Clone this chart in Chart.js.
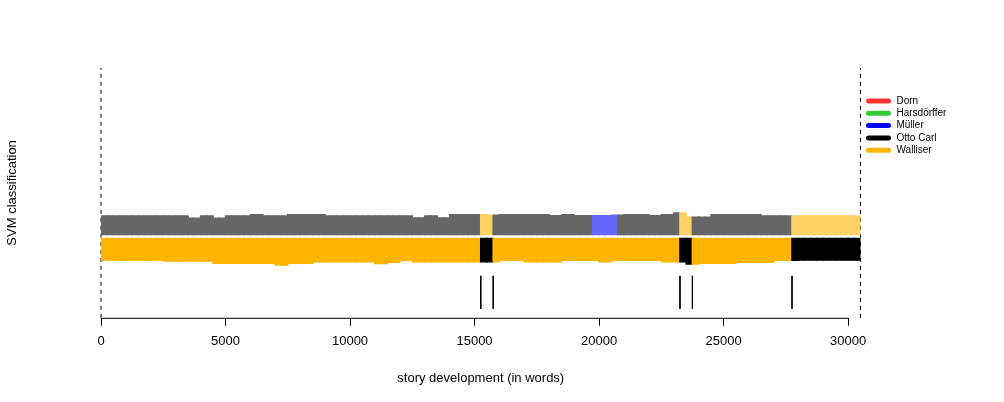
<!DOCTYPE html>
<html>
<head>
<meta charset="utf-8">
<script src="https://cdn.jsdelivr.net/npm/chart.js@4.4.0/dist/chart.umd.min.js"></script>
<style>
  html, body { margin: 0; padding: 0; background: #fff; }
  #wrap { width: 1004px; height: 402px; }
</style>
</head>
<body>
<div id="wrap"><canvas id="svmChart" width="1004" height="402"></canvas></div>
<script>
// candidates and their colours
const authors = ["Dorn", "Harsdörffer", "Müller", "Otto Carl", "Walliser"];
const authorColors = ["#ff3333", "#33cc33", "#0000ff", "#000000", "#ffb400"];

// text length and step between slices (words)
const textLength = 30500;
const sliceStep = 500;

// strength of the 1st choice for each 500-word slice (drawn downwards)
const firstScore = [
  0.92, 0.92, 0.92, 0.92, 0.92, 0.96, 0.96, 0.96, 0.96, 1.05,
  1.05, 1.05, 1.05, 1.05, 1.12, 1.05, 1.05, 0.99, 0.99, 0.99,
  0.99, 0.99, 1.06, 1.01, 0.93, 0.99, 0.99, 0.99, 0.99, 0.99,
  0.99, 0.99, 0.93, 0.93, 0.99, 0.99, 0.99, 0.93, 0.93, 0.93,
  0.99, 0.93, 0.93, 0.93, 0.93, 0.99, 0.99, 1.08, 1.05, 1.05,
  1.05, 1.01, 1.01, 1.01, 0.93, 0.93, 0.92, 0.92, 0.92, 0.92,
  0.92
];
// strength of the 2nd choice for each slice (drawn upwards)
const secondScore = [
  0.81, 0.81, 0.81, 0.81, 0.81, 0.81, 0.81, 0.72, 0.81, 0.72,
  0.81, 0.81, 0.86, 0.81, 0.81, 0.86, 0.86, 0.86, 0.81, 0.81,
  0.81, 0.81, 0.81, 0.81, 0.81, 0.73, 0.81, 0.73, 0.86, 0.86,
  0.86, 0.84, 0.86, 0.86, 0.86, 0.86, 0.82, 0.86, 0.82, 0.82,
  0.82, 0.84, 0.86, 0.86, 0.82, 0.86, 0.93, 0.76, 0.76, 0.86,
  0.86, 0.86, 0.86, 0.81, 0.81, 0.81, 0.81, 0.81, 0.81, 0.81,
  0.81
];

// classification runs: word where each run starts + winning author
const firstBreaks = [0, 15250, 15750, 23250, 23750, 27750];
const firstClass = ["Walliser", "Otto Carl", "Walliser", "Otto Carl", "Walliser", "Otto Carl"];
const secondBreaks = [0, 15250, 15750, 19750, 20750, 23250, 23750, 27750];
const secondClass = ["Otto Carl", "Walliser", "Otto Carl", "Müller", "Otto Carl", "Walliser", "Otto Carl", "Walliser"];

// marked positions in the story
const milestones = [15250, 15750, 23250, 23750, 27750];
const xTicks = [0, 5000, 10000, 15000, 20000, 25000, 30000];

// vertical layout of the strip (plot units)
const yMin = -3.3, yMax = 6.7, bandGap = 0.1;
const markTop = -1.62, markBottom = -2.94;

const fontFamily = "'Liberation Sans', Arial, sans-serif";

function classAt(word, breaks, classes) {
  let c = classes[0];
  for (let i = 0; i < breaks.length; i++) if (word >= breaks[i]) c = classes[i];
  return c;
}
function colorOf(name, alpha) {
  const hex = authorColors[authors.indexOf(name)];
  const r = parseInt(hex.slice(1, 3), 16), g = parseInt(hex.slice(3, 5), 16), b = parseInt(hex.slice(5, 7), 16);
  // second choice is a lighter shade, mixed with white
  return `rgb(${Math.round(r * alpha + 255 * (1 - alpha))},${Math.round(g * alpha + 255 * (1 - alpha))},${Math.round(b * alpha + 255 * (1 - alpha))})`;
}

// half-slice cells, so the class runs can start mid-slice
const cell = sliceStep / 2;
const firstData = [], firstColors = [], secondData = [], secondColors = [];
for (let w = 0; w < textLength; w += cell) {
  const k = Math.floor(w / sliceStep);
  const mid = w + cell / 2;
  firstData.push({ x: mid, y: [-bandGap, -bandGap - firstScore[k]] });
  firstColors.push(colorOf(classAt(mid, firstBreaks, firstClass), 1));
  secondData.push({ x: mid, y: [0, secondScore[k]] });
  secondColors.push(colorOf(classAt(mid, secondBreaks, secondClass), 0.6));
}

const lineDefaults = { type: "line", borderColor: "#000", borderWidth: 1, pointRadius: 0, clip: false, fill: false };
const datasets = [
  { type: "bar", label: "1st choice", data: firstData, backgroundColor: firstColors, borderWidth: 0,
    grouped: false, barPercentage: 1.25, categoryPercentage: 1 },
  { type: "bar", label: "2nd choice", data: secondData, backgroundColor: secondColors, borderWidth: 0,
    grouped: false, barPercentage: 1.25, categoryPercentage: 1 },
  { ...lineDefaults, label: "start", data: [{ x: 0, y: yMin }, { x: 0, y: yMax }], borderDash: [4, 4] },
  { ...lineDefaults, label: "end", data: [{ x: textLength, y: yMin }, { x: textLength, y: yMax }], borderDash: [4, 4] },
];
milestones.forEach((m) => {
  datasets.push({ ...lineDefaults, label: "mark", data: [{ x: m, y: markTop }, { x: m, y: markBottom }] });
});

const extras = {
  id: "extras",
  afterDraw(chart) {
    const ctx = chart.ctx, xs = chart.scales.x, area = chart.chartArea;
    ctx.save();
    // axis line only between first and last tick
    ctx.strokeStyle = "#000";
    ctx.lineWidth = 1;
    ctx.beginPath();
    ctx.moveTo(xs.getPixelForValue(xTicks[0]), area.bottom + 0.5);
    ctx.lineTo(xs.getPixelForValue(xTicks[xTicks.length - 1]), area.bottom + 0.5);
    ctx.stroke();

    // y title
    ctx.fillStyle = "#000";
    ctx.font = "13px " + fontFamily;
    ctx.textAlign = "center";
    ctx.textBaseline = "middle";
    ctx.translate(12, (area.top + area.bottom) / 2);
    ctx.rotate(-Math.PI / 2);
    ctx.fillText("SVM classification", 0, 0);
    ctx.restore();

    // legend
    ctx.save();
    ctx.font = "10px " + fontFamily;
    ctx.textBaseline = "middle";
    ctx.lineCap = "round";
    ctx.lineWidth = 5;
    authors.forEach((a, i) => {
      const y = 101 + i * 12.3;
      ctx.strokeStyle = authorColors[i];
      ctx.beginPath();
      ctx.moveTo(area.right + 8, y);
      ctx.lineTo(area.right + 28, y);
      ctx.stroke();
      ctx.fillStyle = "#000";
      ctx.fillText(a, area.right + 36, y);
    });
    ctx.restore();
  },
};

new Chart(document.getElementById("svmChart"), {
  data: { datasets: datasets },
  options: {
    responsive: false,
    devicePixelRatio: 1,
    animation: false,
    layout: { padding: { left: 101, right: 143.5, top: 68, bottom: 16 } },
    plugins: { legend: { display: false }, tooltip: { enabled: false } },
    scales: {
      x: {
        type: "linear",
        min: 0,
        max: textLength,
        offset: false,
        afterBuildTicks: (axis) => { axis.ticks = xTicks.map((v) => ({ value: v })); },
        border: { display: false },
        grid: { offset: false, drawOnChartArea: false, drawTicks: true, tickLength: 8, color: "#000", lineWidth: 1 },
        ticks: {
          color: "#000",
          font: { family: fontFamily, size: 13 },
          padding: 8,
          maxRotation: 0,
          autoSkip: false,
          callback: (v) => String(v),
        },
        title: {
          display: true,
          text: "story development (in words)",
          color: "#000",
          font: { family: fontFamily, size: 13 },
          padding: { top: 13, bottom: 0 },
        },
      },
      y: { type: "linear", min: yMin, max: yMax, display: false },
    },
  },
  plugins: [extras],
});
</script>
</body>
</html>
